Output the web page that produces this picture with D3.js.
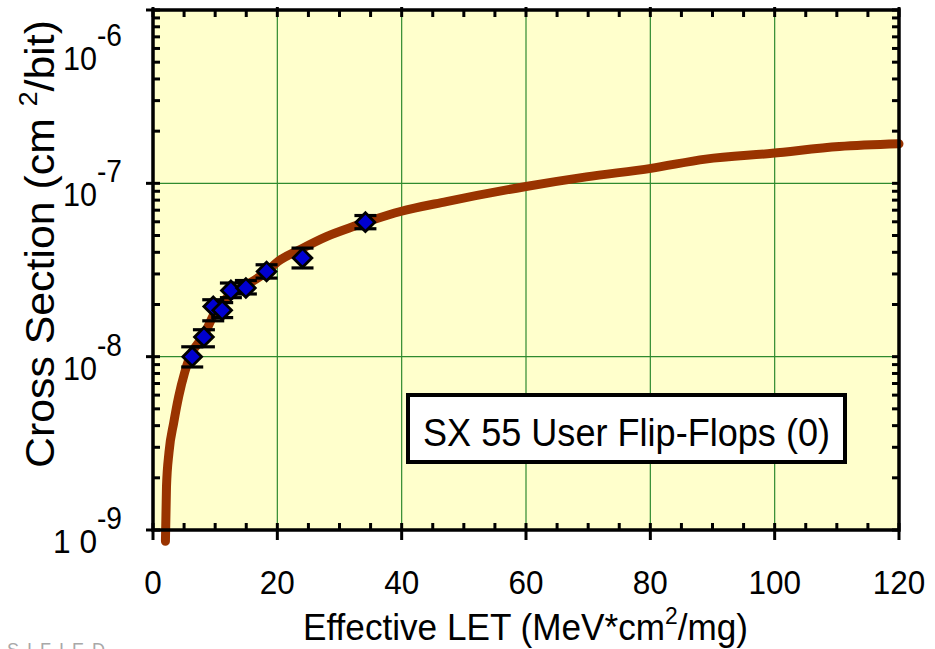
<!DOCTYPE html>
<html>
<head>
<meta charset="utf-8">
<script src="https://cdn.jsdelivr.net/npm/d3@7"></script>
<style>
  html, body { margin: 0; padding: 0; background: #ffffff; }
  svg { display: block; }
  text { font-family: "Liberation Sans", Arial, Helvetica, sans-serif; fill: #000; }
</style>
</head>
<body>
<svg id="chart" width="935" height="649"></svg>
<script>
// ---------------- data ----------------
// Weibull fit curve
const curveLET = [2.0, 2.17, 2.57, 3.34, 4.13, 5.09, 5.94, 8.08, 10.2, 12.9, 15.6, 18.3, 20.1, 23.6, 27.9, 32.2, 35.4, 39.8, 47.2, 60.0, 69.7, 80.1, 88.9, 99.6, 110.4, 120.0];
const curveXS  = [8.6e-10, 1.78e-9, 2.8e-9, 4.17e-9, 5.88e-9, 8.09e-9, 1.0e-8, 1.31e-8, 1.87e-8, 2.33e-8, 2.66e-8, 3.10e-8, 3.54e-8, 4.14e-8, 4.93e-8, 5.63e-8, 6.16e-8, 6.88e-8, 7.85e-8, 9.59e-8, 1.09e-7, 1.22e-7, 1.38e-7, 1.49e-7, 1.63e-7, 1.69e-7];

// measured data points with error bars
const pointLET = [6.31, 8.19, 9.69, 11.13, 12.53, 14.94, 18.27, 24.05, 34.17];
const pointXS  = [1.00e-8, 1.30e-8, 1.95e-8, 1.85e-8, 2.41e-8, 2.49e-8, 3.10e-8, 3.71e-8, 5.97e-8];
const errHigh  = [1.14e-8, 1.43e-8, 2.13e-8, 2.05e-8, 2.66e-8, 2.75e-8, 3.39e-8, 4.23e-8, 6.52e-8];
const errLow   = [8.72e-9, 1.14e-8, 1.61e-8, 1.68e-8, 2.19e-8, 2.30e-8, 2.84e-8, 3.25e-8, 5.47e-8];

// axes
const xDomain = [0, 120];
const xMajorTicks = [0, 20, 40, 60, 80, 100, 120];
const xMinorStep = 5;
const yDomain = [1e-9, 1e-6];
const yMajorTicks = [1e-9, 1e-8, 1e-7, 1e-6];
const yTickBase = ["1 0", "10", "10", "10"];
const yTickExp  = ["-9", "-8", "-7", "-6"];

const xTitleMain = "Effective LET (MeV*cm";
const xTitleSup = "2";
const xTitleEnd = "/mg)";
const yTitleMain = "Cross Section (cm ";
const yTitleSup = "2";
const yTitleEnd = "/bit)";
const legendText = "SX 55 User Flip-Flops (0)";
const footerText = "SIFIED";

// ---------------- layout ----------------
const plot = { left: 153, right: 899, top: 10, bottom: 530 };
const svg = d3.select("#chart");

const x = d3.scaleLinear().domain(xDomain).range([plot.left, plot.right]);
const y = d3.scaleLog().domain(yDomain).range([plot.bottom, plot.top]);

// background
svg.append("rect")
  .attr("x", plot.left).attr("y", plot.top)
  .attr("width", plot.right - plot.left).attr("height", plot.bottom - plot.top)
  .attr("fill", "#ffffcc");

// grid lines
const gridColor = "#2f8a2f";
const g = svg.append("g");
g.selectAll("line.vg")
  .data(xMajorTicks.filter(v => v > xDomain[0] && v < xDomain[1]))
  .join("line")
  .attr("x1", d => x(d)).attr("x2", d => x(d))
  .attr("y1", plot.top).attr("y2", plot.bottom)
  .attr("stroke", gridColor).attr("stroke-width", 1.2);
g.selectAll("line.hg")
  .data(yMajorTicks.filter(v => v > yDomain[0] && v < yDomain[1]))
  .join("line")
  .attr("y1", d => y(d)).attr("y2", d => y(d))
  .attr("x1", plot.left).attr("x2", plot.right)
  .attr("stroke", gridColor).attr("stroke-width", 1.2);

// fit curve
const curveData = curveLET.map((v, i) => [v, curveXS[i]]);
svg.append("path")
  .datum(curveData)
  .attr("fill", "none")
  .attr("stroke", "#993300")
  .attr("stroke-width", 9)
  .attr("stroke-linecap", "round")
  .attr("stroke-linejoin", "round")
  .attr("d", d3.line().x(d => x(d[0])).y(d => y(d[1])).curve(d3.curveMonotoneX));

// error bars
const pts = pointLET.map((v, i) => ({ x: v, y: pointXS[i], hi: errHigh[i], lo: errLow[i] }));
const capHalf = 11;
const eb = svg.append("g").attr("stroke", "#000");
eb.selectAll("line.v").data(pts).join("line")
  .attr("x1", d => x(d.x)).attr("x2", d => x(d.x))
  .attr("y1", d => y(d.hi)).attr("y2", d => y(d.lo))
  .attr("stroke-width", 2);
eb.selectAll("line.hi").data(pts).join("line")
  .attr("x1", d => x(d.x) - capHalf).attr("x2", d => x(d.x) + capHalf)
  .attr("y1", d => y(d.hi)).attr("y2", d => y(d.hi))
  .attr("stroke-width", 3.2);
eb.selectAll("line.lo").data(pts).join("line")
  .attr("x1", d => x(d.x) - capHalf).attr("x2", d => x(d.x) + capHalf)
  .attr("y1", d => y(d.lo)).attr("y2", d => y(d.lo))
  .attr("stroke-width", 3.2);

// diamonds
const diamond = d3.symbol().type(d3.symbolSquare).size(175);
svg.append("g").selectAll("path").data(pts).join("path")
  .attr("d", diamond)
  .attr("transform", d => `translate(${x(d.x)},${y(d.y)}) rotate(45)`)
  .attr("fill", "#0000d0")
  .attr("stroke", "#000")
  .attr("stroke-width", 2.8);

// ---------------- axes / frame ----------------
const ax = svg.append("g").attr("stroke", "#000");
ax.append("rect")
  .attr("x", plot.left).attr("y", plot.top)
  .attr("width", plot.right - plot.left).attr("height", plot.bottom - plot.top)
  .attr("fill", "none").attr("stroke-width", 3.5);

const xMinor = d3.range(xDomain[0] + xMinorStep, xDomain[1], xMinorStep).filter(v => !xMajorTicks.includes(v));
ax.selectAll("line.bmin").data(xMinor).join("line")
  .attr("x1", d => x(d)).attr("x2", d => x(d))
  .attr("y1", plot.bottom).attr("y2", plot.bottom - 7).attr("stroke-width", 3);
ax.selectAll("line.bmaj").data(xMajorTicks).join("line")
  .attr("x1", d => x(d)).attr("x2", d => x(d))
  .attr("y1", plot.bottom - 7).attr("y2", plot.bottom + 10).attr("stroke-width", 3);
ax.selectAll("line.tmin").data(xMinor).join("line")
  .attr("x1", d => x(d)).attr("x2", d => x(d))
  .attr("y1", plot.top).attr("y2", plot.top + 7).attr("stroke-width", 3);
ax.selectAll("line.tmaj").data(xMajorTicks).join("line")
  .attr("x1", d => x(d)).attr("x2", d => x(d))
  .attr("y1", plot.top - 3).attr("y2", plot.top + 7).attr("stroke-width", 3);

const yMinor = [];
for (let i = 0; i < yMajorTicks.length - 1; i++) {
  for (let k = 2; k <= 9; k++) yMinor.push(yMajorTicks[i] * k);
}
ax.selectAll("line.lmin").data(yMinor).join("line")
  .attr("y1", d => y(d)).attr("y2", d => y(d))
  .attr("x1", plot.left).attr("x2", plot.left + 7).attr("stroke-width", 3);
ax.selectAll("line.lmaj").data(yMajorTicks).join("line")
  .attr("y1", d => y(d)).attr("y2", d => y(d))
  .attr("x1", plot.left - 7).attr("x2", plot.left + 7).attr("stroke-width", 3);
ax.selectAll("line.rmin").data(yMinor).join("line")
  .attr("y1", d => y(d)).attr("y2", d => y(d))
  .attr("x1", plot.right).attr("x2", plot.right - 7).attr("stroke-width", 3);
ax.selectAll("line.rmaj").data(yMajorTicks).join("line")
  .attr("y1", d => y(d)).attr("y2", d => y(d))
  .attr("x1", plot.right).attr("x2", plot.right - 7).attr("stroke-width", 3);

// x tick labels (slightly condensed face as in the original)
svg.append("g").selectAll("text").data(xMajorTicks).join("text")
  .attr("x", d => x(d) - String(d).length * 17.5 / 2)
  .attr("y", 594)
  .attr("font-size", 33)
  .attr("textLength", d => String(d).length * 17.5)
  .attr("lengthAdjust", "spacingAndGlyphs")
  .text(d => d);

// y tick labels: base + exponent
const yl = svg.append("g");
yMajorTicks.forEach((v, i) => {
  let base = y(v) + 23;
  if (y(v) - 40 < plot.top) base += 37; // top label pushed down to stay inside
  const bw = yTickBase[i].length > 2 ? 44 : 34;
  yl.append("text")
    .attr("x", 97 - bw).attr("y", base)
    .attr("font-size", 34)
    .attr("textLength", bw)
    .attr("lengthAdjust", "spacingAndGlyphs")
    .text(yTickBase[i]);
  yl.append("text")
    .attr("x", 97).attr("y", base - 24)
    .attr("font-size", 31)
    .attr("textLength", 25)
    .attr("lengthAdjust", "spacingAndGlyphs")
    .text(yTickExp[i]);
});

// x title
const xt = svg.append("text")
  .attr("x", 303).attr("y", 640)
  .attr("font-size", 37)
  .attr("textLength", 445)
  .attr("lengthAdjust", "spacingAndGlyphs");
xt.append("tspan").text(xTitleMain);
xt.append("tspan").attr("font-size", 24).attr("dy", -16).text(xTitleSup);
xt.append("tspan").attr("dy", 16).text(xTitleEnd);

// y title
const yt = svg.append("text")
  .attr("transform", "translate(54,468) rotate(-90)")
  .attr("font-size", 40)
  .attr("textLength", 448)
  .attr("lengthAdjust", "spacingAndGlyphs");
yt.append("tspan").text(yTitleMain);
yt.append("tspan").attr("font-size", 25).attr("dy", -17).text(yTitleSup);
yt.append("tspan").attr("dy", 17).text(yTitleEnd);

// legend box
svg.append("rect")
  .attr("x", 408).attr("y", 395).attr("width", 437).attr("height", 67)
  .attr("fill", "#ffffff").attr("stroke", "#000").attr("stroke-width", 4);
svg.append("text")
  .attr("x", 423).attr("y", 446)
  .attr("font-size", 39)
  .attr("textLength", 407)
  .attr("lengthAdjust", "spacingAndGlyphs")
  .text(legendText);

// cut-off footer marking at the bottom edge
svg.append("text")
  .attr("x", 7).attr("y", 656)
  .attr("font-size", 18)
  .attr("letter-spacing", 8)
  .style("fill", "#a8a8a8")
  .text(footerText);
</script>
</body>
</html>
